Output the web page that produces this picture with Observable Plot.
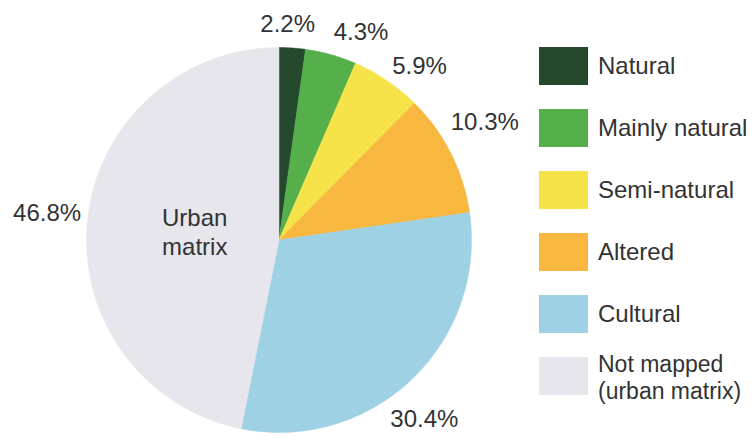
<!DOCTYPE html>
<html>
<head>
<meta charset="utf-8">
<script src="https://cdn.jsdelivr.net/npm/d3@7"></script>
<script src="https://cdn.jsdelivr.net/npm/@observablehq/plot@0.6"></script>
<style>
  html, body { margin: 0; padding: 0; background: #fff; }
  #wrap { position: relative; width: 753px; height: 437px; font-family: "Liberation Sans", Arial, sans-serif; color: #333; }
  #wrap svg { position: absolute; left: 0; top: 0; }
  #legend { position: absolute; left: 539px; top: 47px; }
  .row { display: flex; align-items: center; height: 38px; margin-bottom: 24px; }
  .sw { width: 49px; height: 38px; flex: none; }
  .lab { margin-left: 10px; font-size: 24px; line-height: 24px; white-space: nowrap; color: #333; }
  .lab span { display: block; }
  .lab.two { font-size: 23px; line-height: 26.5px; margin-top: 3px; }
</style>
</head>
<body>
<div id="wrap"><div id="legend"></div></div>
<script>
// ---- data ----
const categories = ["Natural", "Mainly natural", "Semi-natural", "Altered", "Cultural", "Not mapped (urban matrix)"];
const shares = [2.2, 4.3, 5.9, 10.3, 30.4, 46.8];
const sliceLabels = ["2.2%", "4.3%", "5.9%", "10.3%", "30.4%", "46.8%"];
const legendLabels = ["Natural", "Mainly natural", "Semi-natural", "Altered", "Cultural", "Not mapped\n(urban matrix)"];
const innerLabel = "Urban\nmatrix";

// ---- styles / layout ----
const colors = ["#24492d", "#55af4b", "#f6e349", "#f8b73e", "#9fd1e4", "#e6e6ec"];
const cx = 278.5, cy = 239.5, r = 192.5;
const labelRadius = 1.174;
const labelNudge = [[-7, 10], [21, 10], [14, 14], [4, -16], [-10, 15], [-7, -4]];

// ---- build slices ----
const total = d3.sum(shares);
let cum = 0;
const slices = categories.map((c, i) => {
  const a0 = cum / total * 2 * Math.PI;
  cum += shares[i];
  const a1 = cum / total * 2 * Math.PI;
  return {category: c, label: sliceLabels[i], a0, a1, mid: (a0 + a1) / 2};
});
const polys = [];
for (const s of slices) {
  polys.push({category: s.category, x: 0, y: 0});
  const n = Math.max(2, Math.ceil((s.a1 - s.a0) / 0.005));
  for (let k = 0; k <= n; k++) {
    const a = s.a0 + (s.a1 - s.a0) * k / n;
    polys.push({category: s.category, x: Math.sin(a), y: Math.cos(a)});
  }
  polys.push({category: s.category, x: 0, y: 0});
}

const textMarks = slices.map((s, i) => Plot.text([s], {
  x: d => labelRadius * Math.sin(d.mid),
  y: d => labelRadius * Math.cos(d.mid),
  text: "label",
  dx: labelNudge[i][0], dy: labelNudge[i][1],
  fontSize: 24, fill: "#333", textAnchor: "middle"
}));

const big = slices[slices.length - 1];
const chart = Plot.plot({
  width: 753, height: 437,
  margin: 0,
  style: {fontFamily: "Liberation Sans, Arial, sans-serif", background: "transparent", overflow: "visible"},
  x: {domain: [-1, 1], range: [cx - r, cx + r], axis: null},
  y: {domain: [-1, 1], range: [cy + r, cy - r], axis: null},
  color: {domain: categories, range: colors},
  marks: [
    Plot.line(polys, {x: "x", y: "y", z: "category", fill: "category", stroke: "category", strokeWidth: 0.5, curve: "linear"}),
    ...textMarks,
    Plot.text([big], {
      x: d => 0.44 * Math.sin(d.mid), y: d => 0.44 * Math.cos(d.mid),
      text: () => innerLabel, fontSize: 24, lineHeight: 1.2, fill: "#333", textAnchor: "middle"
    })
  ]
});
document.getElementById("wrap").prepend(chart);

// ---- legend ----
const legend = d3.select("#legend");
categories.forEach((c, i) => {
  const row = legend.append("div").attr("class", "row");
  row.append("div").attr("class", "sw").style("background", colors[i]);
  const parts = legendLabels[i].split("\n");
  const lab = row.append("div").attr("class", parts.length > 1 ? "lab two" : "lab");
  parts.forEach(t => lab.append("span").text(t));
});
</script>
</body>
</html>
